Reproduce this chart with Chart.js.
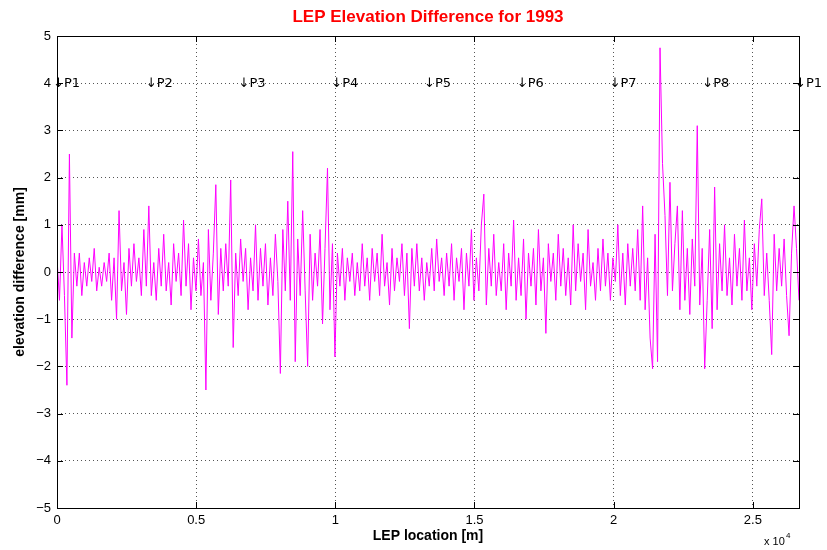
<!DOCTYPE html>
<html><head><meta charset="utf-8">
<script src="https://cdn.jsdelivr.net/npm/chart.js@4"></script>
<style>html,body{margin:0;padding:0;background:#fff}#w{width:827px;height:550px}</style>
</head><body><div id="w"><canvas id="c" width="827" height="550"></canvas></div>
<script>
const circumference = 26659;
const xTicks = [0, 5000, 10000, 15000, 20000, 25000];
const yTicks = [-5,-4,-3,-2,-1,0,1,2,3,4,5];
const pointLabels = ['↓P1','↓P2','↓P3','↓P4','↓P5','↓P6','↓P7','↓P8','↓P1'];
const elevDiff = [
0.3,-0.6,1.0,-0.5,-2.4,2.5,-1.4,0.4,-0.3,0.4,-0.5,0.2,-0.3,0.3,-0.2,0.5,-0.4,0.1,-0.3,0.2,
-0.2,0.4,-0.6,0.3,-1.0,1.3,-0.4,0.2,-0.9,0.5,-0.3,0.6,-0.2,0.3,-0.5,0.9,-0.3,1.4,-0.5,0.2,
-0.6,0.5,-0.3,0.8,-0.4,0.2,-0.7,0.6,-0.2,0.4,-0.5,1.1,-0.3,0.6,-0.8,0.3,-0.4,0.7,-0.5,0.2,
-2.5,0.9,-0.6,0.4,1.85,-0.9,0.5,-0.4,0.6,-0.3,1.95,-1.6,0.4,-0.5,0.7,-0.2,0.5,-0.8,0.3,-0.4,
1.0,-0.6,0.5,-0.3,0.6,-0.7,0.3,-0.5,0.8,-0.2,-2.15,0.9,-0.4,1.5,-0.6,2.55,-1.9,0.7,-0.5,1.3,
-0.4,-2.0,0.8,-0.6,0.4,-0.3,0.9,-1.1,0.5,2.2,-0.8,0.6,-1.8,0.4,-0.3,0.5,-0.6,0.3,-0.2,0.4,
-0.5,0.2,-0.4,0.6,-0.3,0.3,-0.6,0.5,-0.2,0.4,-0.5,0.8,-0.3,0.2,-0.7,0.5,-0.4,0.3,-0.2,0.6,
-0.5,0.4,-1.2,0.5,-0.3,0.6,-0.4,0.3,-0.6,0.2,-0.3,0.5,-0.4,0.7,-0.2,0.3,-0.5,0.4,-0.3,0.6,
-0.6,0.3,-0.2,0.5,-0.8,0.4,-0.3,0.9,-0.6,0.3,-0.4,1.0,1.65,-0.7,0.5,-0.3,0.8,-0.5,0.2,-0.4,
0.6,-0.8,0.4,-0.3,1.1,-0.6,0.3,-0.5,0.7,-1.0,0.4,-0.3,0.5,-0.7,0.9,-0.4,0.3,-1.3,0.6,-0.2,
0.4,-0.6,0.8,-0.3,0.5,-0.5,0.3,-0.7,1.0,-0.4,0.6,-0.2,0.4,-0.8,0.9,-0.3,0.2,-0.6,0.5,-0.4,
0.7,-0.3,0.4,-0.6,0.3,-0.2,1.0,-0.5,0.4,-0.7,0.6,-0.3,0.5,-0.4,0.9,-0.6,1.4,-0.8,0.3,-1.4,
-2.05,0.8,-1.9,4.75,2.3,1.2,-0.5,1.9,-0.4,0.6,1.4,-0.8,1.3,-0.6,0.5,-0.9,0.7,-0.3,3.1,-0.7,
0.5,-2.05,-0.6,0.9,-1.2,1.8,-0.8,0.6,-0.4,1.0,-0.5,0.3,-0.7,0.8,-0.3,0.5,-0.6,1.1,-0.4,0.3,
-0.8,0.6,-0.3,0.9,1.55,-0.5,0.4,-0.6,-1.75,0.8,-0.4,0.5,-0.3,0.7,-0.5,-1.35,0.4,1.4,0.5,-0.6
];
const step = circumference / (elevDiff.length - 1);
const pts = elevDiff.map((v,i)=>({x:i*step, y:v}));

const deco = {
  id:'deco',
  afterDraw(ch){
    const {ctx, chartArea:a, scales:{x,y}} = ch;
    ctx.save();
    ctx.strokeStyle='#000'; ctx.lineWidth=1;
    ctx.strokeRect(a.left+0.5,a.top+0.5,a.right-a.left,a.bottom-a.top);
    ctx.beginPath();
    xTicks.forEach(t=>{const px=Math.round(x.getPixelForValue(t))+0.5;ctx.moveTo(px,a.bottom);ctx.lineTo(px,a.bottom-6);ctx.moveTo(px,a.top);ctx.lineTo(px,a.top+6);});
    yTicks.forEach(t=>{const py=Math.round(y.getPixelForValue(t))+0.5;ctx.moveTo(a.left,py);ctx.lineTo(a.left+6,py);ctx.moveTo(a.right,py);ctx.lineTo(a.right-6,py);});
    ctx.stroke();
    ctx.fillStyle='#000'; ctx.font='13px "DejaVu Sans", Arial'; ctx.textBaseline='middle'; ctx.textAlign='left';
    const py=y.getPixelForValue(4);
    pointLabels.forEach((l,k)=>{ctx.fillText(l, x.getPixelForValue(k*circumference/8)-4, py);});
    ctx.fillStyle='#ff0000'; ctx.font='bold 17px "Liberation Sans", Arial'; ctx.textAlign='center'; ctx.textBaseline='alphabetic';
    ctx.fillText('LEP Elevation Difference for 1993', (a.left+a.right)/2, 22);
    ctx.fillStyle='#000'; ctx.font='bold 14px "Liberation Sans", Arial';
    ctx.fillText('LEP location [m]', (a.left+a.right)/2, 540);
    ctx.save(); ctx.translate(24,(a.top+a.bottom)/2); ctx.rotate(-Math.PI/2);
    ctx.fillText('elevation difference [mm]',0,0); ctx.restore();
    ctx.font='11px "Liberation Sans", Arial'; ctx.textAlign='left';
    ctx.fillText('x 10',764,545); ctx.font='8px "Liberation Sans", Arial'; ctx.fillText('4',786,538);
    ctx.restore();
  }
};

new Chart(document.getElementById('c'),{
  type:'line',
  data:{datasets:[{data:pts,borderColor:'#ff00ff',borderWidth:1,pointRadius:0,tension:0}]},
  options:{
    responsive:false, animation:false,
    layout:{padding:{top:36,right:28,left:0,bottom:0}},
    plugins:{legend:{display:false},tooltip:{enabled:false}},
    scales:{
      x:{type:'linear',min:0,max:circumference,
        afterBuildTicks(s){s.ticks=xTicks.map(v=>({value:v}));},
        afterFit(s){s.height=42;},
        grid:{color:'#555',drawTicks:false},
        border:{display:false,dash:[1,3]},
        ticks:{padding:5,color:'#000',maxRotation:0,font:{size:13,family:'"Liberation Sans", Arial'},callback:v=>String(v/10000)}},
      y:{min:-5,max:5,
        afterBuildTicks(s){s.ticks=yTicks.map(v=>({value:v}));},
        afterFit(s){s.width=57;},
        grid:{color:'#555',drawTicks:false},
        border:{display:false,dash:[1,3]},
        ticks:{padding:6,color:'#000',font:{size:13,family:'"Liberation Sans", Arial'},callback:v=>v<0?'−'+Math.abs(v):String(v)}}
    }
  },
  plugins:[deco]
});
</script></body></html>
